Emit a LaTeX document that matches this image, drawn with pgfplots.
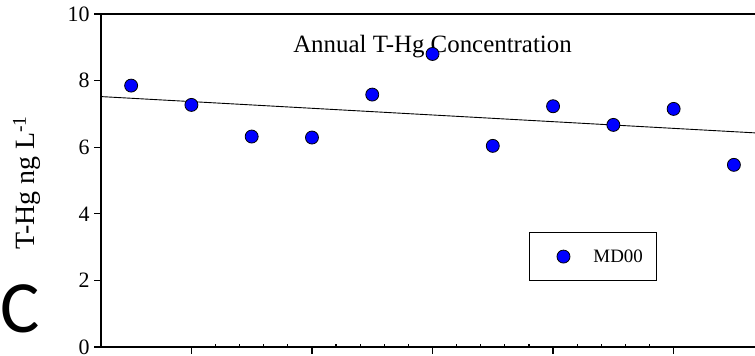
\documentclass[border=0pt]{standalone}
\usepackage{fontspec}
\setmainfont{Liberation Serif}
\newfontfamily\carlito{Carlito}
\usepackage{pgfplots}
\pgfplotsset{compat=1.18}
\begin{document}
\begin{tikzpicture}
\useasboundingbox (-101bp,-9bp) rectangle (654bp,347bp);
\begin{axis}[
  at={(0,0)}, anchor=south west,
  scale only axis, width=654bp, height=333bp,
  xmin=0.5, xmax=11.35, ymin=0, ymax=10,
  axis lines*=left, axis line style={-, line width=1.2bp},
  xtick={2,4,6,8,10}, xticklabels={},
  minor x tick num=4,
  ytick={0,2,4,6,8,10},
  yticklabels={0,2,4,6,8,10},
  tick align=outside, major tick length=7bp, minor tick length=3bp,
  every tick/.style={black, line width=1.2bp},
  minor x tick style={yshift=3bp},
  tick label style={font=\fontsize{22}{22}\selectfont},
  yticklabel style={xshift=-1bp, inner ysep=0pt},
  clip=false,
  legend style={at={(0.6544,0.198)}, anchor=south west, draw=black, line width=1bp,
    inner sep=0pt, font=\fontsize{19}{19}\selectfont, nodes={inner sep=0pt}},
  legend image code/.code={\path[draw=none,fill=none] (-34bp,-24bp) rectangle (6.5bp,24bp);
    \draw[#1] plot coordinates {(0,0)};},
]
\node[anchor=base, font=\fontsize{25}{25}\selectfont] at (axis cs:6,8.83) {Annual T-Hg Concentration};
\node[rotate=90, anchor=center, font=\fontsize{28}{28}\selectfont] at ([xshift=-74bp,yshift=-2bp]rel axis cs:0,0.5) {T-Hg ng L\textsuperscript{-1}};
\node[anchor=base west, inner sep=0pt, font=\carlito\fontsize{74}{74}\selectfont, xshift=-101bp, yshift=15bp] at (rel axis cs:0,0) {C};
\draw[line width=1.2bp] (rel axis cs:0,1) -- (rel axis cs:1,1);
\addplot[black, line width=0.9bp, forget plot] coordinates {(0.5,7.52) (11.35,6.43)};
\addplot[only marks, mark=*, mark size=6.5bp, mark options={fill=blue, draw=black, line width=0.8bp}] coordinates {
(1,7.85) (2,7.27) (3,6.32) (4,6.29) (5,7.58) (6,8.80) (7,6.04) (8,7.23) (9,6.67) (10,7.15) (11,5.47)
};
\addlegendentry{\hspace*{23.5bp}MD00\hspace*{14bp}}
\end{axis}
\end{tikzpicture}
\end{document}
